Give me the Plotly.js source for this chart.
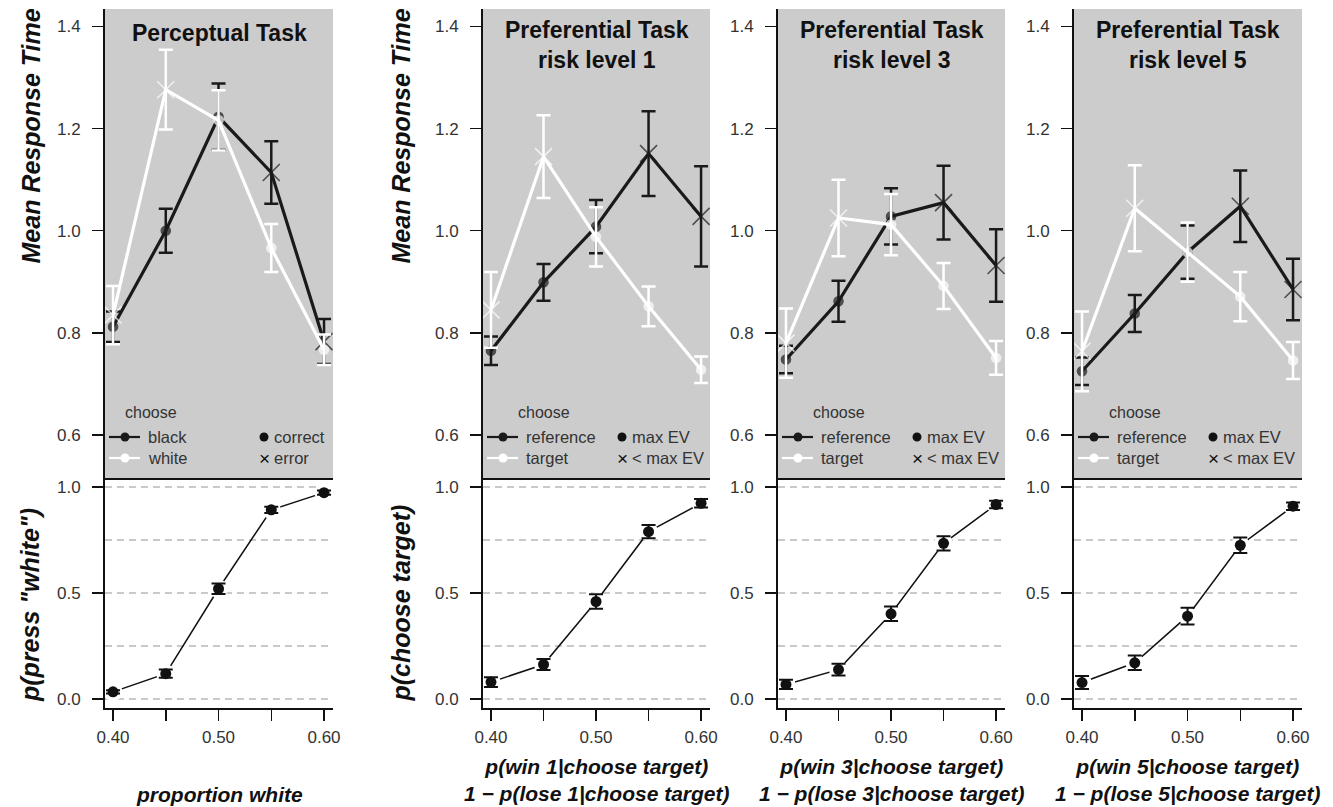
<!DOCTYPE html>
<html>
<head>
<meta charset="utf-8">
<script src="https://cdn.plot.ly/plotly-3.0.1.min.js"></script>
<style>html,body{margin:0;padding:0;background:#fff;}#chart{width:1333px;height:807px;}</style>
</head>
<body>
<div id="chart"></div>
<script>
// ---------------- DATA ----------------
const xVals = [0.40, 0.45, 0.50, 0.55, 0.60];
const xTickText = ['0.40', '', '0.50', '', '0.60'];

const panelTitles = ['Perceptual Task', 'Preferential Task<br>risk level 1', 'Preferential Task<br>risk level 3', 'Preferential Task<br>risk level 5'];
const xTitles = ['proportion white',
  'p(win 1|choose target)<br>1 \u2212 p(lose 1|choose target)',
  'p(win 3|choose target)<br>1 \u2212 p(lose 3|choose target)',
  'p(win 5|choose target)<br>1 \u2212 p(lose 5|choose target)'];
const topYTitle = 'Mean Response Time';
const bottomYTitles = ['p(press "white")', 'p(choose target)'];

const legendTitle = 'choose';
const legendSeries = [['black', 'white'], ['reference', 'target'], ['reference', 'target'], ['reference', 'target']];
const legendOutcome = [['correct', 'error'], ['max EV', '< max EV'], ['max EV', '< max EV'], ['max EV', '< max EV']];

// mean response time, dark series (black / reference)
const rtDark1 = [0.812, 1.000, 1.223, 1.114, 0.783];
const seDark1 = [0.030, 0.043, 0.065, 0.061, 0.044];
const rtDark2 = [0.765, 0.899, 1.008, 1.151, 1.028];
const seDark2 = [0.028, 0.036, 0.052, 0.083, 0.098];
const rtDark3 = [0.748, 0.862, 1.028, 1.055, 0.932];
const seDark3 = [0.027, 0.040, 0.055, 0.072, 0.071];
const rtDark4 = [0.725, 0.838, 0.958, 1.048, 0.885];
const seDark4 = [0.027, 0.036, 0.052, 0.070, 0.060];

// mean response time, light series (white / target)
const rtLight1 = [0.835, 1.276, 1.216, 0.966, 0.767];
const seLight1 = [0.057, 0.078, 0.059, 0.047, 0.030];
const rtLight2 = [0.845, 1.145, 0.988, 0.852, 0.728];
const seLight2 = [0.074, 0.081, 0.058, 0.039, 0.026];
const rtLight3 = [0.780, 1.025, 1.012, 0.892, 0.751];
const seLight3 = [0.068, 0.075, 0.060, 0.045, 0.033];
const rtLight4 = [0.764, 1.044, 0.958, 0.871, 0.746];
const seLight4 = [0.078, 0.084, 0.058, 0.048, 0.036];

// correct / max EV (true) vs error / < max EV (false)
const darkCorrect = [true, true, true, false, false];
const lightCorrect = [false, false, true, true, true];

// choice proportions
const pChoice1 = [0.034, 0.120, 0.520, 0.892, 0.973];
const seChoice1 = [0.008, 0.019, 0.025, 0.015, 0.010];
const pChoice2 = [0.080, 0.163, 0.460, 0.789, 0.923];
const seChoice2 = [0.023, 0.026, 0.034, 0.031, 0.020];
const pChoice3 = [0.069, 0.139, 0.402, 0.734, 0.917];
const seChoice3 = [0.022, 0.028, 0.034, 0.034, 0.018];
const pChoice4 = [0.078, 0.171, 0.391, 0.725, 0.909];
const seChoice4 = [0.031, 0.034, 0.039, 0.036, 0.018];

const rtDark = [rtDark1, rtDark2, rtDark3, rtDark4];
const seDark = [seDark1, seDark2, seDark3, seDark4];
const rtLight = [rtLight1, rtLight2, rtLight3, rtLight4];
const seLight = [seLight1, seLight2, seLight3, seLight4];
const pChoice = [pChoice1, pChoice2, pChoice3, pChoice4];
const seChoice = [seChoice1, seChoice2, seChoice3, seChoice4];

// ---------------- LAYOUT GEOMETRY ----------------
const W = 1333, H = 807;
const FONT = 'Liberation Sans, Arial, Helvetica, sans-serif';
const GRAY = '#cccccc';
const panelLeft = [105, 483, 778, 1074];
const panelRight = [333, 710, 1005, 1302];
const topPx = [9, 478], botPx = [478, 708];
const fx = p => p / W;
const fy = p => 1 - p / H;
const xRange = [0.3924, 0.6085];

const data = [];
const layout = {
  width: W, height: H,
  margin: {l: 0, r: 0, t: 0, b: 0},
  paper_bgcolor: '#ffffff', plot_bgcolor: 'rgba(0,0,0,0)',
  showlegend: false,
  font: {family: FONT, color: '#333333', size: 16},
  annotations: [], shapes: []
};

function sym(flags) { return flags.map(f => f ? 'circle' : 'x-thin-open'); }
function siz(flags) { return flags.map(f => f ? 9 : 17); }

for (let i = 0; i < 4; i++) {
  const ti = i + 1, bi = i + 5;
  const tx = 'x' + (ti === 1 ? '' : ti), ty = 'y' + (ti === 1 ? '' : ti);
  const bx = 'x' + bi, by = 'y' + bi;
  const dom = [fx(panelLeft[i]), fx(panelRight[i])];

  layout['xaxis' + (ti === 1 ? '' : ti)] = {
    domain: dom, range: xRange, anchor: ty, showticklabels: false, ticks: '',
    showline: true, linewidth: 2, linecolor: '#111', showgrid: false, zeroline: false, fixedrange: true
  };
  layout['yaxis' + (ti === 1 ? '' : ti)] = {
    domain: [fy(topPx[1]), fy(topPx[0])], range: [0.516, 1.434], anchor: tx,
    tickvals: [0.6, 0.8, 1.0, 1.2, 1.4], ticktext: ['0.6', '0.8', '1.0', '1.2', '1.4'],
    ticks: 'outside', ticklen: 11, tickwidth: 1.5, tickcolor: '#111', ticklabelstandoff: 8,
    tickfont: {size: 17, color: '#333', family: FONT},
    showline: true, linewidth: 2, linecolor: '#111', showgrid: false, zeroline: false
  };
  layout['xaxis' + bi] = {
    domain: dom, range: xRange, anchor: by,
    tickvals: xVals, ticktext: xTickText, ticks: 'outside', ticklen: 11, tickwidth: 1.5, tickcolor: '#111',
    ticklabelstandoff: 2, tickfont: {size: 17, color: '#333', family: FONT},
    showline: true, linewidth: 2, linecolor: '#111', showgrid: false, zeroline: false
  };
  layout['yaxis' + bi] = {
    domain: [fy(botPx[1]), fy(botPx[0])], range: [-0.042, 1.042], anchor: bx,
    tickvals: [0, 0.5, 1.0], ticktext: ['0.0', '0.5', '1.0'],
    ticks: 'outside', ticklen: 11, tickwidth: 1.5, tickcolor: '#111', ticklabelstandoff: 8,
    tickfont: {size: 17, color: '#333', family: FONT},
    showline: true, linewidth: 2, linecolor: '#111', zeroline: false,
    showgrid: true, gridcolor: '#c9c9c9', gridwidth: 1.5, griddash: '7px,5px',
    minor: {tickvals: [0.25, 0.75], showgrid: true, gridcolor: '#c9c9c9', gridwidth: 1.5, griddash: '7px,5px', ticks: ''}
  };

  // grey background of top panel
  layout.shapes.push({type: 'rect', xref: tx + ' domain', yref: ty + ' domain', x0: 0, x1: 1, y0: 0, y1: 1,
    fillcolor: GRAY, line: {width: 0}, layer: 'below'});

  // top panel: dark series then light series
  const series = [
    {y: rtDark[i], se: seDark[i], col: '#1a1a1a', flags: darkCorrect},
    {y: rtLight[i], se: seLight[i], col: '#ffffff', flags: lightCorrect}
  ];
  series.forEach(s => {
    data.push({
      type: 'scatter', mode: 'lines+markers', x: xVals, y: s.y, xaxis: tx, yaxis: ty,
      line: {color: s.col, width: 3.2},
      marker: {color: s.col, symbol: sym(s.flags), size: siz(s.flags), line: {color: s.col, width: 1.6}},
      error_y: {type: 'data', array: s.se, color: s.col, thickness: 2.5, width: 7},
      cliponaxis: false, hoverinfo: 'skip'
    });
  });

  // bottom panel: line, white halo gap, then points with error bars
  data.push({type: 'scatter', mode: 'lines', x: xVals, y: pChoice[i], xaxis: bx, yaxis: by,
    line: {color: '#111', width: 1.5}, hoverinfo: 'skip'});
  data.push({type: 'scatter', mode: 'markers', x: xVals, y: pChoice[i], xaxis: bx, yaxis: by,
    marker: {color: '#ffffff', size: 19, line: {width: 0}}, hoverinfo: 'skip'});
  data.push({type: 'scatter', mode: 'markers', x: xVals, y: pChoice[i], xaxis: bx, yaxis: by,
    marker: {color: '#111', size: 11, line: {width: 0}},
    error_y: {type: 'data', array: seChoice[i], color: '#111', thickness: 2, width: 7},
    cliponaxis: false, hoverinfo: 'skip'});

  // panel title
  const cx = (panelLeft[i] + panelRight[i]) / 2;
  layout.annotations.push({
    xref: 'paper', yref: 'paper', x: fx(cx), y: fy(i === 0 ? 33 : 45), xanchor: 'center', yanchor: 'middle',
    text: panelTitles[i], showarrow: false, align: 'center',
    font: {family: FONT, size: 23, color: '#111', weight: 'bold'}
  });
  // x axis title
  layout.annotations.push({
    xref: 'paper', yref: 'paper', x: fx(cx), y: fy(i === 0 ? 794 : 780), xanchor: 'center', yanchor: 'middle',
    text: xTitles[i], showarrow: false, align: 'center',
    font: {family: FONT, size: 21, color: '#111', weight: 'bold', style: 'italic'}
  });

  // legend
  const L = panelLeft[i];
  const chooseOff = i === 0 ? 18 : 33;
  const colOff = i === 0 ? 159 : 139;
  layout.annotations.push({xref: 'paper', yref: 'paper', x: fx(L + chooseOff), y: fy(412), xanchor: 'left', yanchor: 'middle',
    text: legendTitle, showarrow: false, font: {family: FONT, size: 16, color: '#333'}});
  const rowsY = [437, 458];
  const rowCols = ['#1a1a1a', '#ffffff'];
  for (let r = 0; r < 2; r++) {
    layout.shapes.push({type: 'line', xref: 'paper', yref: 'paper', x0: fx(L + 4), x1: fx(L + 35), y0: fy(rowsY[r]), y1: fy(rowsY[r]),
      line: {color: rowCols[r], width: 2.2}});
    layout.shapes.push({type: 'circle', xref: 'paper', yref: 'paper', xsizemode: 'pixel', ysizemode: 'pixel',
      xanchor: fx(L + 20), yanchor: fy(rowsY[r]), x0: -4.5, x1: 4.5, y0: -4.5, y1: 4.5,
      fillcolor: rowCols[r], line: {width: 0}});
    layout.annotations.push({xref: 'paper', yref: 'paper', x: fx(L + 41), y: fy(rowsY[r]), xanchor: 'left', yanchor: 'middle',
      text: legendSeries[i][r], showarrow: false, font: {family: FONT, size: 16.5, color: '#333'}});
    layout.annotations.push({xref: 'paper', yref: 'paper', x: fx(L + colOff + 8), y: fy(rowsY[r]), xanchor: 'left', yanchor: 'middle',
      text: legendOutcome[i][r], showarrow: false, font: {family: FONT, size: 16.5, color: '#333'}});
  }
  layout.shapes.push({type: 'circle', xref: 'paper', yref: 'paper', xsizemode: 'pixel', ysizemode: 'pixel',
    xanchor: fx(L + colOff), yanchor: fy(rowsY[0]), x0: -4.5, x1: 4.5, y0: -4.5, y1: 4.5,
    fillcolor: '#111', line: {width: 0}});
  layout.annotations.push({xref: 'paper', yref: 'paper', x: fx(L + colOff), y: fy(rowsY[1]), xanchor: 'center', yanchor: 'middle',
    text: '\u00d7', showarrow: false, font: {family: FONT, size: 19, color: '#111'}});
}

// y axis titles (rotated)
[[30, 0], [400, 1]].forEach(([xp, k]) => {
  layout.annotations.push({xref: 'paper', yref: 'paper', x: fx(xp), y: fy(266), xanchor: 'center', yanchor: 'bottom',
    textangle: -90, text: topYTitle, showarrow: false,
    font: {family: FONT, size: 25, color: '#111', weight: 'bold', style: 'italic'}});
  layout.annotations.push({xref: 'paper', yref: 'paper', x: fx(xp), y: fy(704), xanchor: 'center', yanchor: 'bottom',
    textangle: -90, text: bottomYTitles[k], showarrow: false,
    font: {family: FONT, size: 25, color: '#111', weight: 'bold', style: 'italic'}});
});

Plotly.newPlot('chart', data, layout, {staticPlot: true, displayModeBar: false});
</script>
</body>
</html>
